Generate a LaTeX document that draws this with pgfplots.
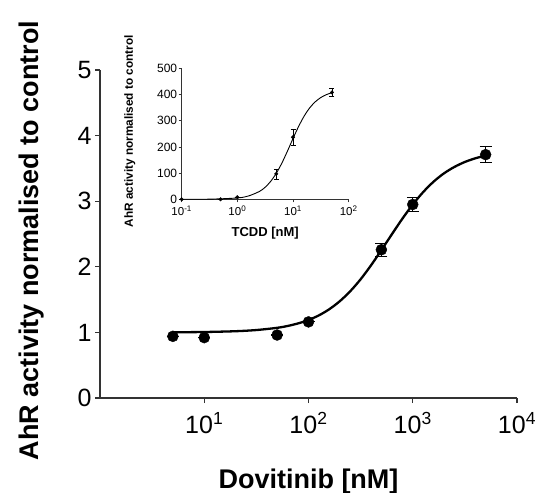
\documentclass[border=0pt]{standalone}
\usepackage{fontspec}
\setmainfont{Liberation Sans}
\usepackage{pgfplots}
\pgfplotsset{compat=1.18}
\definecolor{axgray}{HTML}{333333}

\begin{document}
\begin{tikzpicture}
\path[use as bounding box] (-100pt,-95pt) rectangle (439pt,398pt);

% main dose-response: Dovitinib
\begin{axis}[
  name=main, at={(0pt,0pt)}, anchor=south west,
  scale only axis, width=417pt, height=328pt,
  xmode=log, xmin=1, xmax=10000, ymin=0, ymax=5,
  axis lines=left, axis line style={-, line width=1.3pt, color=axgray},
  xtick={10,100,1000,10000},
  xticklabels={10\textsuperscript{1},10\textsuperscript{2},10\textsuperscript{3},10\textsuperscript{4}},
  ytick={0,1,2,3,4,5}, xminorticks=false,
  tick align=outside, major tick length=5pt,
  tick style={line width=1.3pt, color=axgray},
  /pgf/number format/assume math mode=true,
  tick label style={font=\fontsize{25}{27}\selectfont},
  xticklabel style={yshift=-6pt},
  xlabel={Dovitinib [nM]}, ylabel={AhR activity normalised to control},
  label style={font=\bfseries\fontsize{27}{30}\selectfont},
  xlabel style={at={(axis description cs:0.5,-0.255)}, anchor=center},
  ylabel style={at={(axis description cs:-0.165,0.48)}, anchor=center},
  clip=false,
]
\addplot[black, line width=2.3pt, smooth] coordinates {
  (5,1.002)(10,1.006)(19.95,1.018)(31.62,1.036)(50.12,1.070)(63.1,1.098)
  (79.43,1.137)(100,1.189)(125.9,1.260)(158.5,1.354)(199.5,1.475)(251.2,1.627)
  (316.2,1.810)(398.1,2.023)(501.2,2.256)(631,2.497)(794.3,2.732)(1000,2.949)
  (1259,3.139)(1585,3.298)(1995,3.425)(2512,3.523)(3162,3.598)(3981,3.654)(5000,3.695)
};
\addplot[only marks, mark=*, mark size=5.5pt, black,
  error bars/.cd, y dir=both, y explicit,
  error bar style={line width=1.1pt},
  error mark options={rotate=90, mark size=6pt, line width=1.1pt}]
  coordinates {
  (5,0.94) +- (0,0)
  (10,0.92) +- (0,0)
  (50,0.96) +- (0,0)
  (100,1.16) +- (0,0)
  (500,2.26) +- (0,0.10)
  (1000,2.95) +- (0,0.11)
  (5000,3.71) +- (0,0.12)
};
\end{axis}

% inset: TCDD
\begin{axis}[
  at={(81.7pt,198.7pt)}, anchor=south west,
  scale only axis, width=167pt, height=131pt,
  xmode=log, xmin=0.1, xmax=100, ymin=0, ymax=500,
  axis lines=left, axis line style={-, line width=0.7pt, color=axgray},
  xtick={0.1,1,10,100},
  xticklabels={10\textsuperscript{-1},10\textsuperscript{0},10\textsuperscript{1},10\textsuperscript{2}},
  ytick={0,100,200,300,400,500}, xminorticks=false,
  tick align=outside, major tick length=3pt,
  tick style={line width=0.7pt, color=axgray},
  /pgf/number format/assume math mode=true,
  tick label style={font=\fontsize{11.5}{13}\selectfont},
  yticklabel style={font=\fontsize{12}{13}\selectfont, xshift=2pt},
  xticklabel style={yshift=0pt},
  xlabel={TCDD [nM]}, ylabel={AhR activity normalised to control},
  xlabel style={font=\bfseries\fontsize{13}{15}\selectfont, at={(axis description cs:0.5,-0.26)}, anchor=center},
  ylabel style={font=\bfseries\fontsize{11.8}{13}\selectfont, at={(axis description cs:-0.31,0.52)}, anchor=center},
  clip=false,
]
\addplot[black, line width=0.9pt, smooth] coordinates {
  (0.1,0.05)(0.3162,0.52)(1,5.1)(1.585,12.7)(2.512,30.4)(3.162,46.2)(3.981,68.8)
  (5.012,99.5)(6.31,138.5)(7.943,184.0)(10,232.2)(12.59,278.0)(15.85,317.7)
  (19.95,349.1)(25.12,372.3)(31.62,388.6)(39.81,399.6)(50,406.9)
};
\addplot[only marks, mark=*, mark size=1.8pt, black,
  error bars/.cd, y dir=both, y explicit,
  error bar style={line width=0.5pt},
  error mark options={rotate=90, mark size=2.5pt, line width=0.5pt}]
  coordinates {
  (0.1,0) +- (0,0)
  (0.5,0) +- (0,0)
  (1,8) +- (0,0)
  (5,97) +- (0,19)
  (10,237) +- (0,30)
  (50,408) +- (0,16)
};
\end{axis}
\end{tikzpicture}
\end{document}
